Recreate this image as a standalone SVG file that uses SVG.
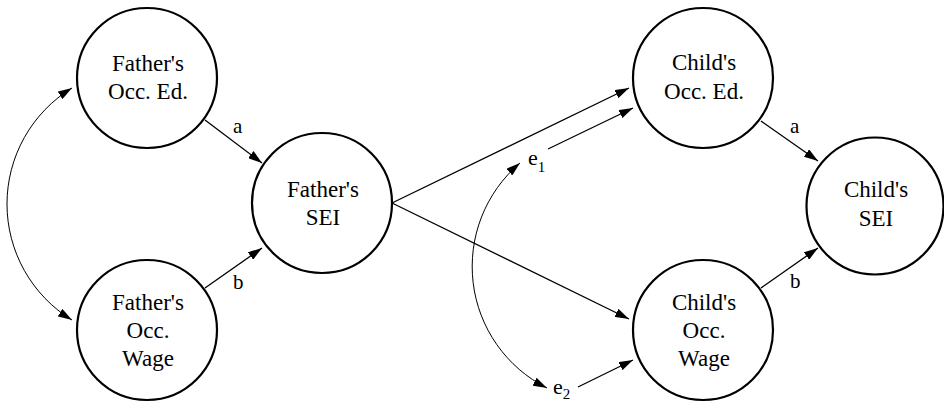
<svg xmlns="http://www.w3.org/2000/svg" width="944" height="402" viewBox="0 0 944 402">
<style>
.node circle{fill:#fff;stroke:#000;stroke-width:2.2}
.node text{font-family:"Liberation Serif","Times New Roman",serif;font-size:23px;text-anchor:middle;fill:#000}
.lbl{font-family:"Liberation Serif","Times New Roman",serif;font-size:21px;fill:#000}
.elbl{font-family:"Liberation Serif","Times New Roman",serif;font-size:22px;fill:#000}
.sub{font-size:15px}
.edge{fill:none;stroke:#000;stroke-width:1.3}
.curve{fill:none;stroke:#000;stroke-width:1}
</style>
<defs>
<marker id="ah" markerUnits="userSpaceOnUse" markerWidth="14" markerHeight="9" refX="14" refY="4.5" orient="auto-start-reverse" viewBox="0 0 14 9">
<path d="M0,0 L14,4.5 L0,9 z" fill="#000"/>
</marker>
</defs>
<rect width="944" height="402" fill="#fff"/>
<g id="connectors">
<path class="edge" d="M205,120 L262,163" marker-end="url(#ah)"/>
<path class="edge" d="M205,288 L262,248" marker-end="url(#ah)"/>
<path class="edge" d="M392,203 L629,88" marker-end="url(#ah)"/>
<path class="edge" d="M392,203 L629,319" marker-end="url(#ah)"/>
<path class="edge" d="M548,149 L633,108" marker-end="url(#ah)"/>
<path class="edge" d="M578,387 L633,360" marker-end="url(#ah)"/>
<path class="edge" d="M761,121 L818,161" marker-end="url(#ah)"/>
<path class="edge" d="M761,288 L818,248" marker-end="url(#ah)"/>
<path class="curve" d="M72,88 A136,136 0 0,0 72,320" marker-start="url(#ah)" marker-end="url(#ah)"/>
<path class="curve" d="M520,163 A136,136 0 0,0 547,388" marker-start="url(#ah)" marker-end="url(#ah)"/>
<text class="lbl" x="233" y="133">a</text>
<text class="lbl" x="233" y="289">b</text>
<text class="lbl" x="790" y="133">a</text>
<text class="lbl" x="790" y="288">b</text>
<text class="elbl" x="528" y="165">e<tspan class="sub" dy="7">1</tspan></text>
<text class="elbl" x="553" y="394">e<tspan class="sub" dy="5">2</tspan></text>
</g>
<g id="fathers-occ-ed" class="node">
<circle cx="147" cy="78" r="70"/>
<text x="148" y="71">Father's</text>
<text x="148" y="99">Occ. Ed.</text>
</g>
<g id="fathers-occ-wage" class="node">
<circle cx="147" cy="330" r="70"/>
<text x="148" y="310">Father's</text>
<text x="148" y="338">Occ.</text>
<text x="148" y="366">Wage</text>
</g>
<g id="fathers-sei" class="node">
<circle cx="322" cy="203" r="70"/>
<text x="323" y="197">Father's</text>
<text x="323" y="225">SEI</text>
</g>
<g id="childs-occ-ed" class="node">
<circle cx="703" cy="78" r="70"/>
<text x="704" y="70">Child's</text>
<text x="704" y="99">Occ. Ed.</text>
</g>
<g id="childs-occ-wage" class="node">
<circle cx="703" cy="330" r="70"/>
<text x="704" y="310">Child's</text>
<text x="704" y="338">Occ.</text>
<text x="704" y="366">Wage</text>
</g>
<g id="childs-sei" class="node">
<circle cx="875" cy="206" r="68.5"/>
<text x="876" y="197">Child's</text>
<text x="876" y="226">SEI</text>
</g>
</svg>
